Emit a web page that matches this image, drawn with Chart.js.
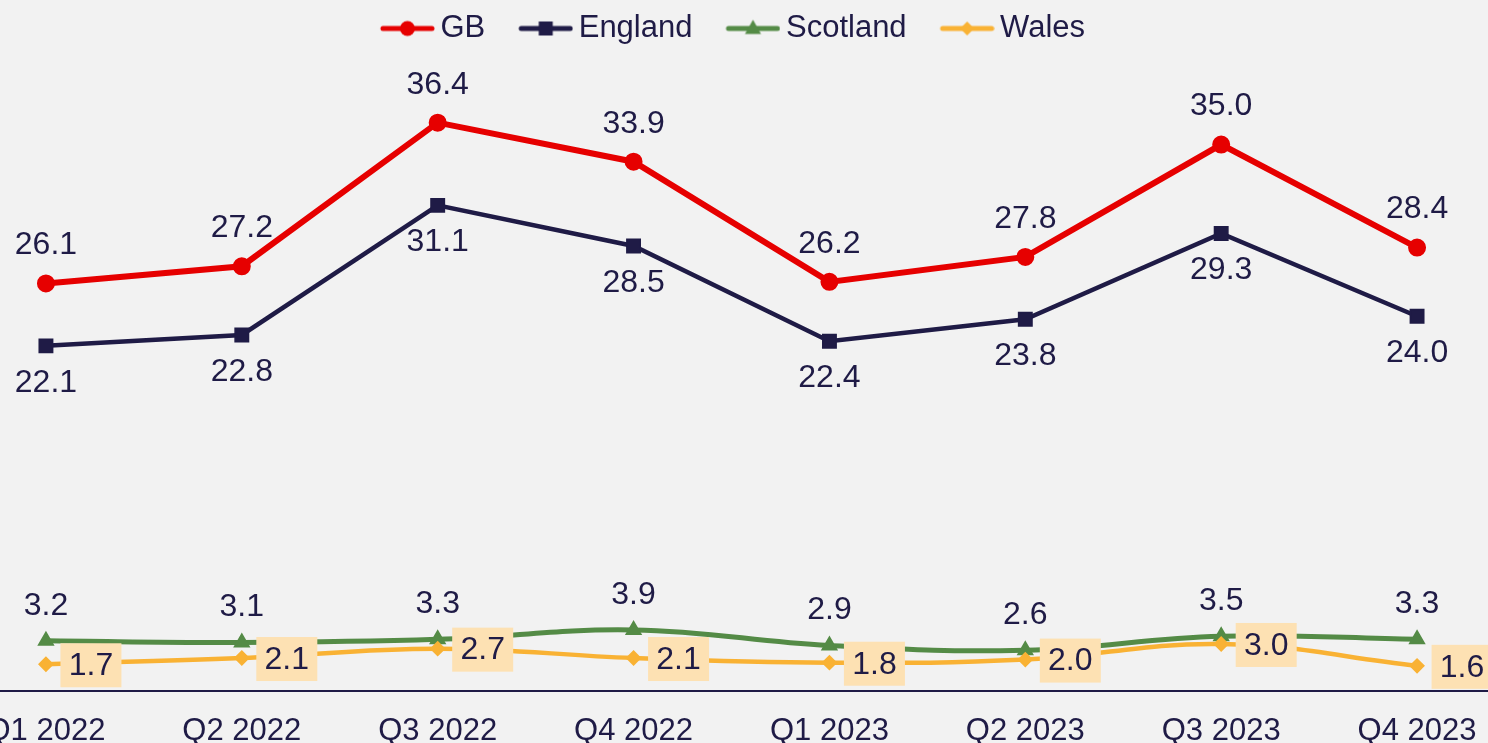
<!DOCTYPE html>
<html>
<head>
<meta charset="utf-8">
<script src="https://cdn.jsdelivr.net/npm/chart.js@4/dist/chart.umd.min.js"></script>
<style>
  html, body { margin: 0; padding: 0; background: #f2f2f2; overflow: hidden; width: 1488px; height: 743px; }
  #wrap { position: absolute; left: -63px; top: 0; width: 1589px; height: 764px; }
</style>
</head>
<body>
<div id="wrap"><canvas id="chart" width="1589" height="764"></canvas></div>
<script>
// Quarterly figures by nation
const quarters = ['Q1 2022', 'Q2 2022', 'Q3 2022', 'Q4 2022', 'Q1 2023', 'Q2 2023', 'Q3 2023', 'Q4 2023'];
const gb       = [26.1, 27.2, 36.4, 33.9, 26.2, 27.8, 35.0, 28.4];
const england  = [22.1, 22.8, 31.1, 28.5, 22.4, 23.8, 29.3, 24.0];
const scotland = [3.2, 3.1, 3.3, 3.9, 2.9, 2.6, 3.5, 3.3];
const wales    = [1.7, 2.1, 2.7, 2.1, 1.8, 2.0, 3.0, 1.6];

const NAVY = '#1f1b46';
const RED = '#e60000';
const GREEN = '#548b46';
const ORANGE = '#f9b234';
const BOX = '#fde1b3';
const FONT = "'Liberation Sans', Arial, sans-serif";

// Legend swatch: a short line with the series marker in its middle
function swatch(color, style, size, lineW) {
  const c = document.createElement('canvas');
  c.width = 85; c.height = 28;
  const g = c.getContext('2d');
  const y = 14, x0 = 30, x1 = 85, cx = (x0 + x1) / 2;
  g.strokeStyle = color; g.fillStyle = color;
  g.lineWidth = lineW; g.lineCap = 'round';
  g.beginPath(); g.moveTo(x0 + 3, y); g.lineTo(x1 - 3, y); g.stroke();
  g.beginPath();
  if (style === 'circle') {
    g.arc(cx, y, size, 0, Math.PI * 2);
  } else if (style === 'rect') {
    g.rect(cx - size, y - size, size * 2, size * 2);
  } else if (style === 'triangle') {
    g.moveTo(cx, y - size * 1.1);
    g.lineTo(cx + size, y + size * 0.7);
    g.lineTo(cx - size, y + size * 0.7);
    g.closePath();
  } else {
    g.moveTo(cx, y - size); g.lineTo(cx + size, y);
    g.lineTo(cx, y + size); g.lineTo(cx - size, y);
    g.closePath();
  }
  g.fill();
  return c;
}

const swatches = [
  swatch(RED, 'circle', 7.5, 5),
  swatch(NAVY, 'rect', 7, 5),
  swatch(GREEN, 'triangle', 8, 5),
  swatch(ORANGE, 'diamond', 7, 5)
];

// Value labels: GB and Scotland above, England below, Wales boxed to the right
const placement = ['above', 'below', 'above', 'box'];
const valueLabels = {
  id: 'valueLabels',
  afterDatasetsDraw(chart) {
    const ctx = chart.ctx;
    ctx.save();
    ctx.font = '32px ' + FONT;
    ctx.textAlign = 'center';
    ctx.textBaseline = 'middle';
    chart.data.datasets.forEach((ds, i) => {
      const meta = chart.getDatasetMeta(i);
      meta.data.forEach((pt, j) => {
        const text = ds.data[j].toFixed(1);
        let x = pt.x, y = pt.y;
        if (placement[i] === 'above') {
          y -= (i === 0 ? 39 : 36);
        } else if (placement[i] === 'below') {
          y += 36;
        } else {
          x += 45; y += 1;
          ctx.fillStyle = BOX;
          ctx.fillRect(x - 30.5, y - 22, 61, 44);
        }
        ctx.fillStyle = NAVY;
        ctx.fillText(text, x, y + 1);
      });
    });
    ctx.restore();
  }
};

// The swatches carry blank space on their left, so nudge the legend to stay centred
const legendNudge = {
  id: 'legendNudge',
  afterLayout(chart) {
    if (chart.legend) { chart.legend.left -= 9; chart.legend.right -= 9; }
  }
};

new Chart(document.getElementById('chart'), {
  type: 'line',
  data: {
    labels: quarters,
    datasets: [
      // later series sit on top of earlier ones
      { label: 'GB', data: gb, order: 4, borderColor: RED, backgroundColor: RED, borderWidth: 6,
        pointStyle: 'circle', pointRadius: 8, pointBorderWidth: 2, tension: 0 },
      { label: 'England', data: england, order: 3, borderColor: NAVY, backgroundColor: NAVY, borderWidth: 4.5,
        pointStyle: 'rect', pointRadius: 9.5, pointBorderWidth: 1.5, tension: 0 },
      { label: 'Scotland', data: scotland, order: 2, borderColor: GREEN, backgroundColor: GREEN, borderWidth: 5,
        pointStyle: 'triangle', pointRadius: 8, pointBorderWidth: 2, tension: 0.4 },
      { label: 'Wales', data: wales, order: 1, borderColor: ORANGE, backgroundColor: ORANGE, borderWidth: 4.5,
        pointStyle: 'rectRot', pointRadius: 6.5, pointBorderWidth: 2, tension: 0.4 }
    ]
  },
  options: {
    responsive: false,
    animation: false,
    layout: { padding: 0 },
    scales: {
      x: {
        offset: true,
        grid: { display: false },
        border: { display: true, color: NAVY, width: 2 },
        ticks: { color: NAVY, font: { family: FONT, size: 31 }, padding: 14, autoSkip: false, maxRotation: 0 }
      },
      y: { display: false, min: 0, max: 40.8 }
    },
    plugins: {
      tooltip: { enabled: false },
      legend: {
        position: 'top',
        labels: {
          usePointStyle: true,
          pointStyleWidth: 65,
          padding: 13,
          color: NAVY,
          font: { family: FONT, size: 31 },
          generateLabels(chart) {
            const items = Chart.defaults.plugins.legend.labels.generateLabels(chart);
            items.sort((a, b) => a.datasetIndex - b.datasetIndex);
            items.forEach(it => { it.pointStyle = swatches[it.datasetIndex]; });
            return items;
          }
        }
      }
    }
  },
  plugins: [valueLabels, legendNudge]
});
</script>
</body>
</html>
